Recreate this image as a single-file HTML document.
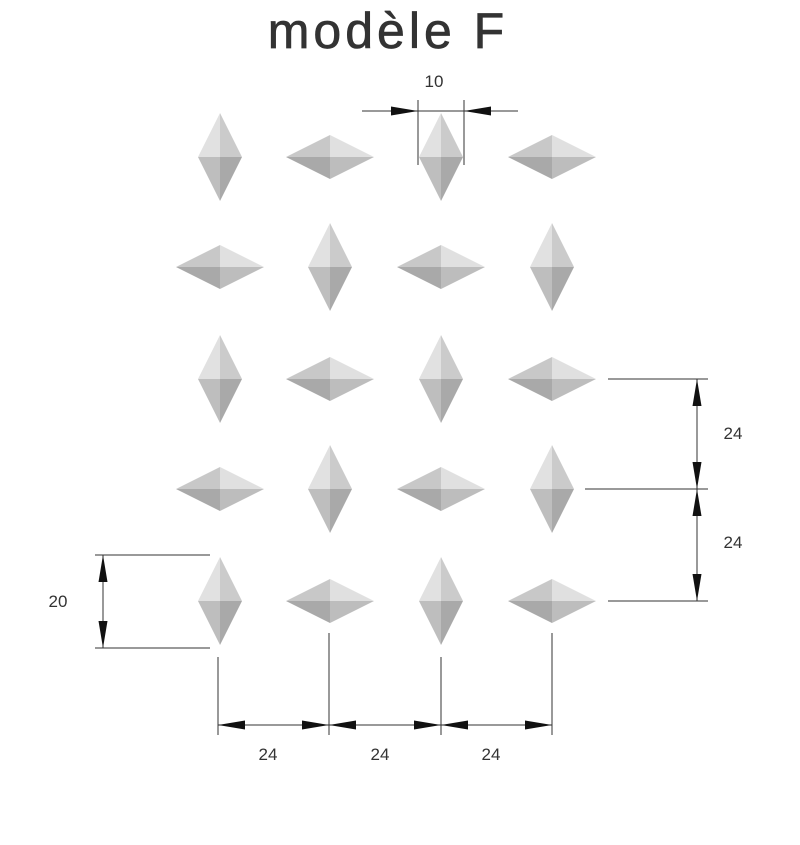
<!DOCTYPE html>
<html><head><meta charset="utf-8"><style>
html,body{margin:0;padding:0;background:#fff;width:800px;height:845px;overflow:hidden}
svg{display:block}
text{font-family:"Liberation Sans",sans-serif;fill:#333}
</style></head><body>
<svg id="s" width="800" height="845" viewBox="0 0 800 845" xmlns="http://www.w3.org/2000/svg">
<text x="388" y="48" font-size="50" text-anchor="middle" letter-spacing="4" stroke="#333" stroke-width="0.7">modèle  F</text>
<text x="434" y="87" font-size="17" text-anchor="middle">10</text>
<text x="733" y="439" font-size="17" text-anchor="middle">24</text>
<text x="733" y="548" font-size="17" text-anchor="middle">24</text>
<text x="58" y="607" font-size="17" text-anchor="middle">20</text>
<text x="268" y="760" font-size="17" text-anchor="middle">24</text>
<text x="380" y="760" font-size="17" text-anchor="middle">24</text>
<text x="491" y="760" font-size="17" text-anchor="middle">24</text>
<g id="g" stroke="#333" stroke-width="1"></g>
</svg>
<script>
const NS="http://www.w3.org/2000/svg",s=document.getElementById('s'),g=document.getElementById('g');
function el(t,a,p){const e=document.createElementNS(NS,t);for(const k in a)e.setAttribute(k,a[k]);(p||s).appendChild(e);return e;}
function poly(pts,f){el('polygon',{points:pts.map(p=>p.join(',')).join(' '),fill:f});}
function V(cx,cy){const w=22,h=44;
poly([[cx,cy-h],[cx-w,cy],[cx,cy]],'#e1e1e1');poly([[cx,cy-h],[cx+w,cy],[cx,cy]],'#cbcbcb');
poly([[cx-w,cy],[cx,cy+h],[cx,cy]],'#bebebe');poly([[cx+w,cy],[cx,cy+h],[cx,cy]],'#a9a9a9');}
function H(cx,cy){const w=44,h=22;
poly([[cx-w,cy],[cx,cy-h],[cx,cy]],'#c8c8c8');poly([[cx+w,cy],[cx,cy-h],[cx,cy]],'#e0e0e0');
poly([[cx-w,cy],[cx,cy+h],[cx,cy]],'#a9a9a9');poly([[cx+w,cy],[cx,cy+h],[cx,cy]],'#bdbdbd');}
const xs=[220,330,441,552],ys=[157,267,379,489,601];
ys.forEach((y,r)=>xs.forEach((x,c)=>((r+c)%2==0?V:H)(x,y)));
function L(x1,y1,x2,y2){el('line',{x1,y1,x2,y2},g);}
function A(x,y,dx,dy){const l=27,w=4.5;const bx=x-dx*l,by=y-dy*l;
el('polygon',{points:`${x},${y} ${bx-dy*w},${by+dx*w} ${bx+dy*w},${by-dx*w}`,fill:'#111',stroke:'none'});}
L(362,111,518,111);L(418,100,418,165);L(464,100,464,165);A(418,111,1,0);A(464,111,-1,0);
L(608,379,708,379);L(585,489,708,489);L(608,601,708,601);L(697,379,697,601);
A(697,379,0,-1);A(697,489,0,1);A(697,489,0,-1);A(697,601,0,1);
L(95,555,210,555);L(95,648,210,648);L(103,555,103,648);A(103,555,0,-1);A(103,648,0,1);
L(218,657,218,735);L(329,633,329,735);L(441,657,441,735);L(552,633,552,735);L(218,725,552,725);
[[218,329],[329,441],[441,552]].forEach(([a,b])=>{A(a,725,-1,0);A(b,725,1,0);});
</script>
</body></html>
